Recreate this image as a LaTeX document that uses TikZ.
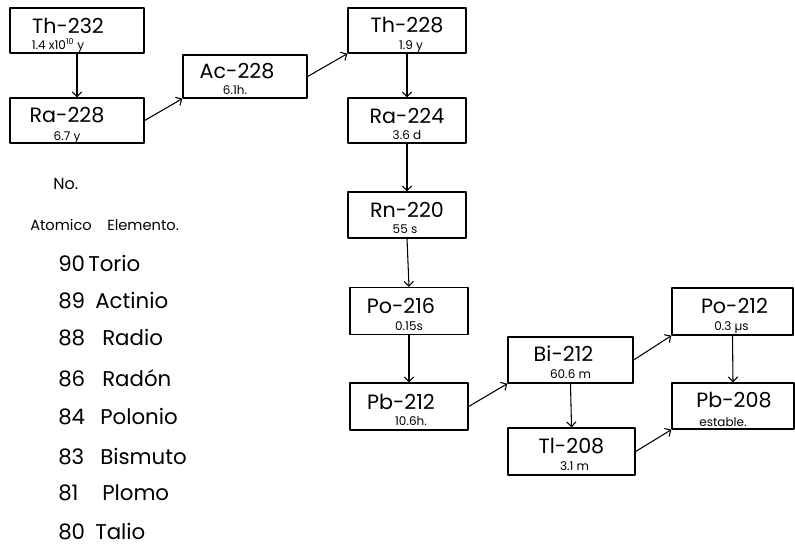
\documentclass[tikz,border=0pt]{standalone}
\usepackage{fontspec}
\setmainfont{Poppins}
\usetikzlibrary{calc,arrows.meta}

\begin{document}
\begin{tikzpicture}[x=0.75pt,y=-0.75pt,line cap=round,line join=round,
  caja/.style={draw,line width=1pt,inner sep=0pt},
  nombre/.style={inner sep=0pt,font=\fontsize{15.5}{15.5}\selectfont},
  vida/.style={inner sep=0pt,anchor=base,font=\fontsize{9}{9}\selectfont},
  flecha/.style={line width=0.8pt,-{Straight Barb[length=3.5pt,width=7pt]}},
  titulo/.style={inner sep=0pt,anchor=base west,font=\fontsize{11}{11}\selectfont},
  leyenda/.style={inner sep=0pt,anchor=base west,font=\fontsize{16}{16}\selectfont}]

\def\px{0.75pt}

\useasboundingbox (0,0) rectangle (795,545);

% cadena del torio
\node[caja,minimum width=134*\px,minimum height=45*\px] (th232) at (77,30.5) {};
\node[nombre] (th232n) at ($(th232.center)+(-9,-5)$) {Th-232};
\node[vida] (th232v) at ($(th232.south)+(-19,-4)$) {1.4 x10\textsuperscript{10} y};

\node[caja,minimum width=134*\px,minimum height=45*\px] (ra228) at (77,120.5) {};
\node[nombre] (ra228n) at ($(ra228.center)+(-10,-5)$) {Ra-228};
\node[vida] (ra228v) at ($(ra228.south)+(-10,-3)$) {6.7 y};

\node[caja,minimum width=124*\px,minimum height=43*\px] (ac228) at (245,76.5) {};
\node[nombre] (ac228n) at ($(ac228.center)+(-8,-5)$) {Ac-228};
\node[vida] (ac228v) at ($(ac228.south)+(-10,-4)$) {6.1h.};

\node[caja,minimum width=118*\px,minimum height=45*\px] (th228) at (407,30.5) {};
\node[nombre] (th228n) at ($(th228.center)+(0,-5)$) {Th-228};
\node[vida] (th228v) at ($(th228.south)+(4,-4)$) {1.9 y};

\node[caja,minimum width=118*\px,minimum height=45*\px] (ra224) at (407,120.5) {};
\node[nombre] (ra224n) at ($(ra224.center)+(0,-5)$) {Ra-224};
\node[vida] (ra224v) at ($(ra224.south)+(0,-4)$) {3.6 d};

\node[caja,minimum width=118*\px,minimum height=46*\px] (rn220) at (407,215) {};
\node[nombre] (rn220n) at ($(rn220.center)+(0,-5)$) {Rn-220};
\node[vida] (rn220v) at ($(rn220.south)+(-2,-5)$) {55 s};

\node[caja,minimum width=118*\px,minimum height=47*\px] (po216) at (409,311) {};
\node[nombre] (po216n) at ($(po216.center)+(-8,-5)$) {Po-216};
\node[vida] (po216v) at ($(po216.south)+(0,-5)$) {0.15s};

\node[caja,minimum width=118*\px,minimum height=47*\px] (pb212) at (409,406.5) {};
\node[nombre] (pb212n) at ($(pb212.center)+(-8,-5)$) {Pb-212};
\node[vida] (pb212v) at ($(pb212.south)+(2,-5)$) {10.6h.};

\node[caja,minimum width=125*\px,minimum height=46*\px] (bi212) at (570.5,360) {};
\node[nombre] (bi212n) at ($(bi212.center)+(-7,-6)$) {Bi-212};
\node[vida] (bi212v) at ($(bi212.south)+(0,-5)$) {60.6 m};

\node[caja,minimum width=127*\px,minimum height=47*\px] (tl208) at (571.5,451.5) {};
\node[nombre] (tl208n) at ($(tl208.center)+(0,-5)$) {Tl-208};
\node[vida] (tl208v) at ($(tl208.south)+(3,-5)$) {3.1 m};

\node[caja,minimum width=121*\px,minimum height=47*\px] (po212) at (732.5,311.5) {};
\node[nombre] (po212n) at ($(po212.center)+(2,-6)$) {Po-212};
\node[vida] (po212v) at ($(po212.south)+(-1,-5)$) {0.3 µs};

\node[caja,minimum width=122*\px,minimum height=46*\px] (pb208) at (733,406) {};
\node[nombre] (pb208n) at ($(pb208.center)+(1,-6)$) {Pb-208};
\node[vida] (pb208v) at ($(pb208.south)+(-10,-3)$) {estable.};

% flechas
\draw[flecha] (th232.south) -- (ra228.north);
\draw[flecha] (ra228.east) -- (ac228.south west);
\draw[flecha] (ac228.east) -- (th228.south west);
\draw[flecha] (th228.south) -- (ra224.north);
\draw[flecha] (ra224.south) -- (rn220.north);
\draw[flecha] (rn220.south) -- (po216.north);
\draw[flecha] (po216.south) -- (pb212.north);
\draw[flecha] (pb212.east) -- (bi212.south west);
\draw[flecha] (bi212.east) -- (po212.south west);
\draw[flecha] (bi212.south) -- (tl208.north);
\draw[flecha] (tl208.east) -- (pb208.south west);
\draw[flecha] (po212.south) -- (pb208.north);

% tabla de elementos
\node[titulo,font=\fontsize{12}{12}\selectfont] (no) at (53,190) {No.};
\node[titulo] (atomico) at (30,230) {Atomico};
\node[titulo] (elemento) at (107,230) {Elemento.};

\foreach \n/\e/\xe/\yb in {90/Torio/88/272,89/Actinio/95/308,88/Radio/102/345,
    86/Radón/102/386,84/Polonio/100/424,83/Bismuto/100/464,81/Plomo/102/500,80/Talio/95/539}
{
  \node[leyenda] (num\n) at (58,\yb) {\n};
  \node[leyenda] (elem\n) at (\xe,\yb) {\e};
}
\end{tikzpicture}
\end{document}
